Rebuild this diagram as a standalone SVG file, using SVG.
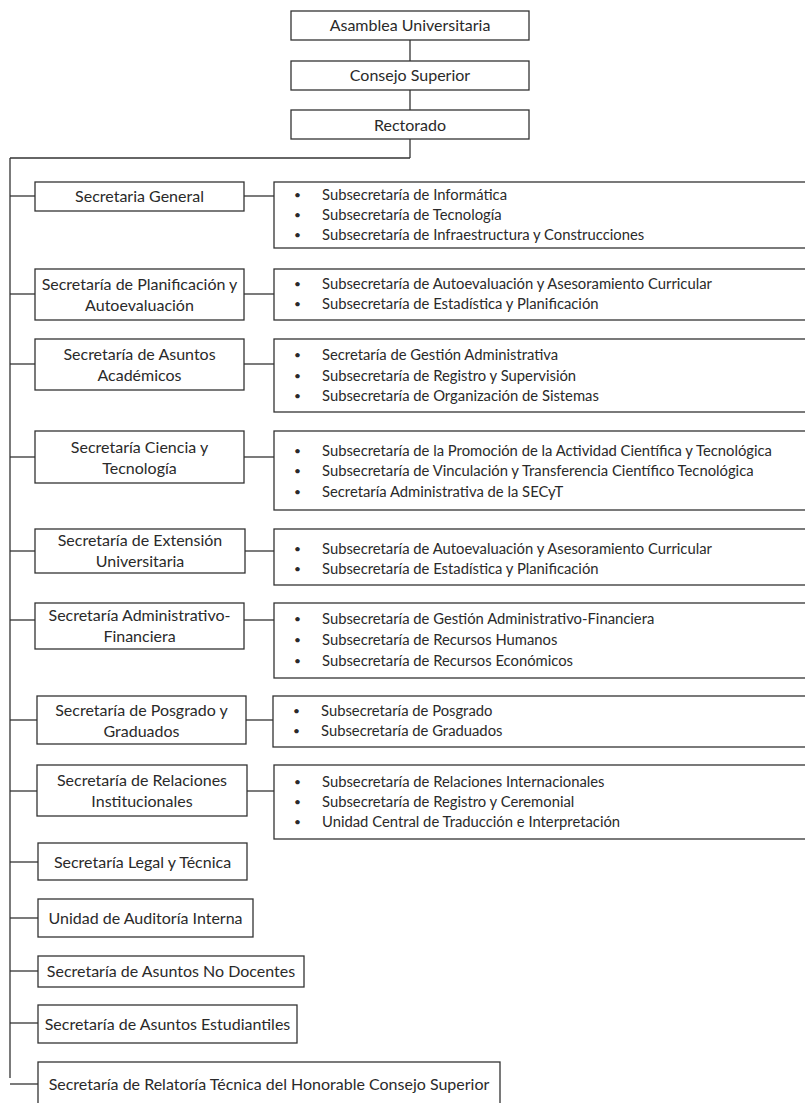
<svg xmlns="http://www.w3.org/2000/svg" width="805" height="1103" viewBox="0 0 805 1103">
<style>
rect{fill:#fff;stroke:#333;stroke-width:1.3}
.c line{stroke:#333;stroke-width:1.3}
text{font-family:Lato,"Open Sans","Liberation Sans",sans-serif;font-size:16px;fill:#2a2a2a}
.m{text-anchor:middle}
.l text{font-size:14.8px}
.l text.b{font-size:12px}
</style>
<rect x="0" y="0" width="805" height="1103" style="fill:#fff;stroke:none"/>
<g class="c" id="connectors">
<line x1="410" y1="40" x2="410" y2="61"/>
<line x1="410" y1="90" x2="410" y2="110"/>
<line x1="410" y1="139" x2="410" y2="158"/>
<line x1="10" y1="158" x2="410" y2="158"/>
<line x1="10" y1="158" x2="10" y2="1078"/>
<line x1="10" y1="196" x2="35" y2="196"/><line x1="244" y1="196" x2="274" y2="196"/>
<line x1="10" y1="294" x2="35" y2="294"/><line x1="244" y1="294" x2="274" y2="294"/>
<line x1="10" y1="364" x2="35" y2="364"/><line x1="244" y1="364" x2="274" y2="364"/>
<line x1="10" y1="457" x2="35" y2="457"/><line x1="244" y1="457" x2="274" y2="457"/>
<line x1="10" y1="551" x2="35" y2="551"/><line x1="245" y1="551" x2="274" y2="551"/>
<line x1="10" y1="620" x2="35" y2="620"/><line x1="244" y1="620" x2="274" y2="620"/>
<line x1="10" y1="720" x2="37" y2="720"/><line x1="246" y1="720" x2="273" y2="720"/>
<line x1="10" y1="791" x2="37" y2="791"/><line x1="247" y1="791" x2="274" y2="791"/>
<line x1="10" y1="862" x2="38" y2="862"/>
<line x1="10" y1="918" x2="38" y2="918"/>
<line x1="10" y1="971" x2="38" y2="971"/>
<line x1="10" y1="1023" x2="38" y2="1023"/>
<line x1="10" y1="1084" x2="38" y2="1084"/>
</g>
<g id="asamblea"><rect x="291" y="11" width="238" height="29"/><text class="m" x="410" y="31">Asamblea Universitaria</text></g>
<g id="consejo"><rect x="291" y="61" width="238" height="29"/><text class="m" x="410" y="81">Consejo Superior</text></g>
<g id="rectorado"><rect x="291" y="110" width="238" height="29"/><text class="m" x="410" y="131">Rectorado</text></g>

<g id="sec-general"><rect x="35" y="182" width="209" height="29"/><text class="m" x="139.5" y="202">Secretaria General</text></g>
<g id="sec-general-list" class="l"><rect x="274" y="182" width="540" height="66"/>
<text class="b" x="294" y="199">•</text><text x="322" y="200">Subsecretaría de Informática</text>
<text class="b" x="294" y="219">•</text><text x="322" y="220">Subsecretaría de Tecnología</text>
<text class="b" x="294" y="239">•</text><text x="322" y="240">Subsecretaría de Infraestructura y Construcciones</text></g>

<g id="sec-planificacion"><rect x="35" y="269" width="209" height="51"/><text class="m" x="139.5" y="290">Secretaría de Planificación y</text><text class="m" x="139.5" y="311">Autoevaluación</text></g>
<g id="sec-planificacion-list" class="l"><rect x="274" y="269" width="540" height="51"/>
<text class="b" x="294" y="288">•</text><text x="322" y="289">Subsecretaría de Autoevaluación y Asesoramiento Curricular</text>
<text class="b" x="294" y="308">•</text><text x="322" y="309">Subsecretaría de Estadística y Planificación</text></g>

<g id="sec-academicos"><rect x="35" y="339" width="209" height="51"/><text class="m" x="139.5" y="360">Secretaría de Asuntos</text><text class="m" x="139.5" y="381">Académicos</text></g>
<g id="sec-academicos-list" class="l"><rect x="274" y="339" width="540" height="73"/>
<text class="b" x="294" y="359">•</text><text x="322" y="360">Secretaría de Gestión Administrativa</text>
<text class="b" x="294" y="380">•</text><text x="322" y="381">Subsecretaría de Registro y Supervisión</text>
<text class="b" x="294" y="400">•</text><text x="322" y="401">Subsecretaría de Organización de Sistemas</text></g>

<g id="sec-ciencia"><rect x="35" y="431" width="209" height="52"/><text class="m" x="139.5" y="453">Secretaría Ciencia y</text><text class="m" x="139.5" y="474">Tecnología</text></g>
<g id="sec-ciencia-list" class="l"><rect x="274" y="431" width="540" height="79"/>
<text class="b" x="294" y="455">•</text><text x="322" y="456">Subsecretaría de la Promoción de la Actividad Científica y Tecnológica</text>
<text class="b" x="294" y="475">•</text><text x="322" y="476">Subsecretaría de Vinculación y Transferencia Científico Tecnológica</text>
<text class="b" x="294" y="496">•</text><text x="322" y="497">Secretaría Administrativa de la SECyT</text></g>

<g id="sec-extension"><rect x="35" y="529" width="210" height="44"/><text class="m" x="140" y="546">Secretaría de Extensión</text><text class="m" x="140" y="567">Universitaria</text></g>
<g id="sec-extension-list" class="l"><rect x="274" y="529" width="540" height="56"/>
<text class="b" x="294" y="553">•</text><text x="322" y="554">Subsecretaría de Autoevaluación y Asesoramiento Curricular</text>
<text class="b" x="294" y="573">•</text><text x="322" y="574">Subsecretaría de Estadística y Planificación</text></g>

<g id="sec-administrativo"><rect x="35" y="603" width="209" height="46"/><text class="m" x="139.5" y="621">Secretaría Administrativo-</text><text class="m" x="139.5" y="642">Financiera</text></g>
<g id="sec-administrativo-list" class="l"><rect x="274" y="603" width="540" height="75"/>
<text class="b" x="294" y="623">•</text><text x="322" y="624">Subsecretaría de Gestión Administrativo-Financiera</text>
<text class="b" x="294" y="644">•</text><text x="322" y="645">Subsecretaría de Recursos Humanos</text>
<text class="b" x="294" y="665">•</text><text x="322" y="666">Subsecretaría de Recursos Económicos</text></g>

<g id="sec-posgrado"><rect x="37" y="696" width="209" height="48"/><text class="m" x="141.5" y="716">Secretaría de Posgrado y</text><text class="m" x="141.5" y="737">Graduados</text></g>
<g id="sec-posgrado-list" class="l"><rect x="273" y="696" width="540" height="51"/>
<text class="b" x="293" y="715">•</text><text x="321" y="716">Subsecretaría de Posgrado</text>
<text class="b" x="293" y="735">•</text><text x="321" y="736">Subsecretaría de Graduados</text></g>

<g id="sec-relaciones"><rect x="37" y="765" width="210" height="51"/><text class="m" x="142" y="786">Secretaría de Relaciones</text><text class="m" x="142" y="807">Institucionales</text></g>
<g id="sec-relaciones-list" class="l"><rect x="274" y="765" width="540" height="74"/>
<text class="b" x="294" y="786">•</text><text x="322" y="787">Subsecretaría de Relaciones Internacionales</text>
<text class="b" x="294" y="806">•</text><text x="322" y="807">Subsecretaría de Registro y Ceremonial</text>
<text class="b" x="294" y="826">•</text><text x="322" y="827">Unidad Central de Traducción e Interpretación</text></g>

<g id="sec-legal"><rect x="38" y="843" width="209" height="37"/><text class="m" x="142.5" y="868">Secretaría Legal y Técnica</text></g>
<g id="unidad-auditoria"><rect x="38" y="899" width="215" height="38"/><text class="m" x="145.5" y="924">Unidad de Auditoría Interna</text></g>
<g id="sec-no-docentes"><rect x="38" y="956" width="266" height="31"/><text class="m" x="171" y="977">Secretaría de Asuntos No Docentes</text></g>
<g id="sec-estudiantiles"><rect x="38" y="1005" width="259" height="38"/><text class="m" x="167.5" y="1030">Secretaría de Asuntos Estudiantiles</text></g>
<g id="sec-relatoria"><rect x="38" y="1062" width="462" height="60"/><text class="m" x="269" y="1090">Secretaría de Relatoría Técnica del Honorable Consejo Superior</text></g>
</svg>
